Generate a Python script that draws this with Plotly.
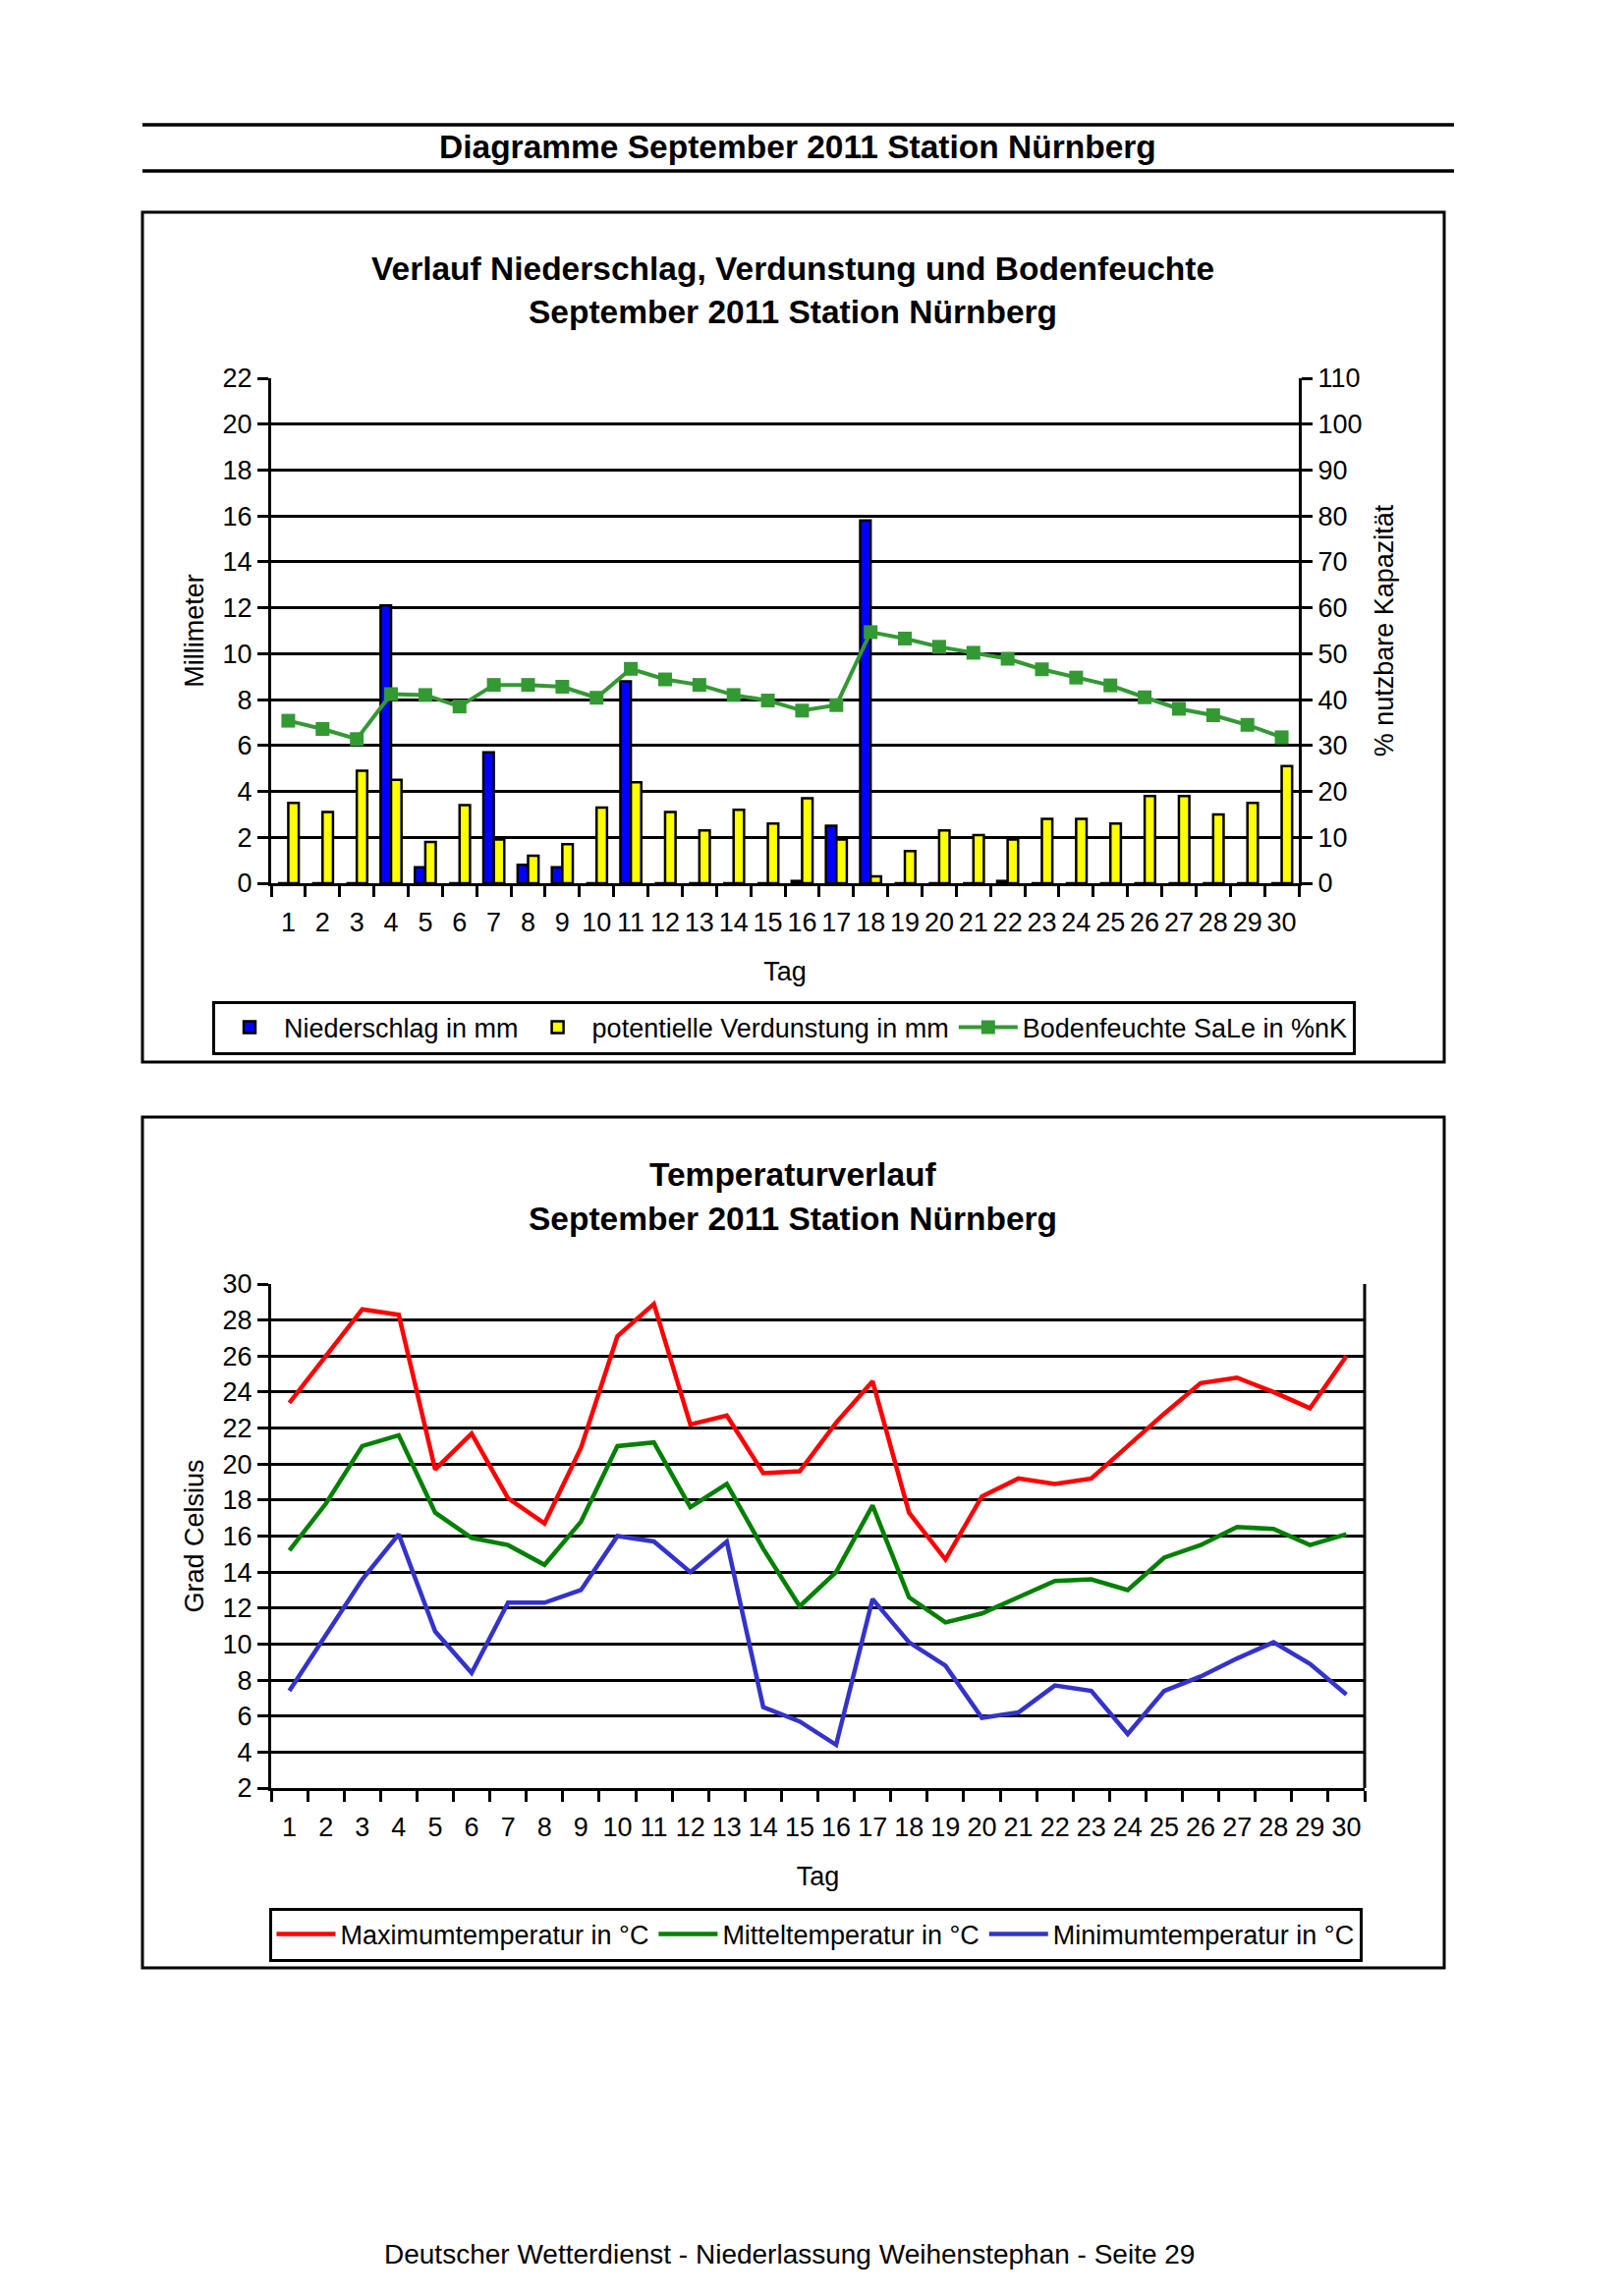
import plotly.graph_objects as go

W, H = 1653, 2337
OFF = 8  # the page body adds an 8 px margin around the figure

def fx(x):
    return (x - OFF) / W

def fy(y):
    return 1 - (y - OFF) / H

# ---------------- data ----------------
tage = [str(d) for d in range(1, 31)]

niederschlag = [0, 0, 0, 12.1, 0.7, 0, 5.7, 0.8, 0.7, 0,
                8.8, 0, 0, 0, 0, 0.1, 2.5, 15.8, 0, 0,
                0, 0.1, 0, 0, 0, 0, 0, 0, 0, 0]

verdunstung = [3.5, 3.1, 4.9, 4.5, 1.8, 3.4, 1.9, 1.2, 1.7, 3.3,
               4.4, 3.1, 2.3, 3.2, 2.6, 3.7, 1.9, 0.3, 1.4, 2.3,
               2.1, 1.9, 2.8, 2.8, 2.6, 3.8, 3.8, 3.0, 3.5, 5.1]

bodenfeuchte = [35.4, 33.6, 31.4, 41.2, 41.0, 38.5, 43.2, 43.2, 42.8, 40.4,
                46.7, 44.4, 43.2, 41.0, 39.8, 37.6, 38.8, 54.7, 53.3, 51.5,
                50.2, 48.9, 46.6, 44.8, 43.1, 40.5, 38.0, 36.6, 34.5, 31.8]

t_max = [23.4, 26.0, 28.6, 28.3, 19.7, 21.7, 18.1, 16.7, 20.9, 27.1,
         28.9, 22.2, 22.7, 19.5, 19.6, 22.3, 24.6, 17.3, 14.7, 18.2,
         19.2, 18.9, 19.2, 21.0, 22.8, 24.5, 24.8, 24.0, 23.1, 26.0]

t_mittel = [15.2, 17.8, 21.0, 21.6, 17.3, 15.9, 15.5, 14.4, 16.8, 21.0,
            21.2, 17.6, 18.9, 15.3, 12.1, 14.0, 17.7, 12.6, 11.2, 11.7,
            12.6, 13.5, 13.6, 13.0, 14.8, 15.5, 16.5, 16.4, 15.5, 16.1]

t_min = [7.4, 10.5, 13.6, 16.1, 10.7, 8.4, 12.3, 12.3, 13.0, 16.0,
         15.7, 14.0, 15.7, 6.5, 5.7, 4.4, 12.5, 10.1, 8.8, 5.9,
         6.2, 7.7, 7.4, 5.0, 7.4, 8.2, 9.2, 10.1, 8.9, 7.2]

FONT = "Arial, Liberation Sans, sans-serif"
FS = 27

fig = go.Figure()

# ---------------- top chart ----------------
fig.add_trace(go.Bar(
    x=tage, y=niederschlag, name="Niederschlag in mm",
    marker=dict(color="#0000FF", line=dict(color="black", width=2.5)),
    xaxis="x", yaxis="y", legend="legend",
))
fig.add_trace(go.Bar(
    x=tage, y=verdunstung, name="potentielle Verdunstung in mm",
    marker=dict(color="#FFFF00", line=dict(color="black", width=2.5)),
    xaxis="x", yaxis="y", legend="legend",
))
fig.add_trace(go.Scatter(
    x=tage, y=bodenfeuchte, name="Bodenfeuchte SaLe in %nK",
    mode="lines+markers",
    line=dict(color="#339933", width=4),
    marker=dict(symbol="square", size=14, color="#339933"),
    xaxis="x", yaxis="y2", legend="legend",
))

# ---------------- bottom chart ----------------
fig.add_trace(go.Scatter(
    x=tage, y=t_max, name="Maximumtemperatur in °C", mode="lines",
    line=dict(color="#FF0000", width=4.5),
    xaxis="x2", yaxis="y3", legend="legend2",
))
fig.add_trace(go.Scatter(
    x=tage, y=t_mittel, name="Mitteltemperatur in °C", mode="lines",
    line=dict(color="#008000", width=4.5),
    xaxis="x2", yaxis="y3", legend="legend2",
))
fig.add_trace(go.Scatter(
    x=tage, y=t_min, name="Minimumtemperatur in °C", mode="lines",
    line=dict(color="#3333CC", width=4.5),
    xaxis="x2", yaxis="y3", legend="legend2",
))

common_x = dict(
    type="category", categoryorder="array", categoryarray=tage,
    range=[-0.5, len(tage) - 0.5],
    tickson="boundaries", tickmode="linear", dtick=1,
    ticks="outside", ticklen=11,
    tickwidth=2.5, tickcolor="black", showline=True, linewidth=3,
    linecolor="black", showgrid=False, ticklabelstandoff=14, tickangle=0,
    automargin=False, tickfont=dict(size=FS),
    title=dict(text="Tag", font=dict(size=FS), standoff=26),
)
common_y = dict(
    tickmode="linear", ticks="outside", ticklen=11, tickwidth=2.5,
    tickcolor="black", showline=True, linewidth=3, linecolor="black",
    zeroline=False, automargin=False, ticklabelstandoff=0,
    tickfont=dict(size=FS),
)

fig.update_layout(
    width=W, height=H,
    margin=dict(l=0, r=0, t=0, b=0, pad=0, autoexpand=False),
    paper_bgcolor="white", plot_bgcolor="white",
    font=dict(family=FONT, size=FS, color="black"),
    barmode="group", bargap=0.39, bargroupgap=0,
    xaxis=dict(domain=[fx(276), fx(1322)], anchor="y", **common_x),
    yaxis=dict(domain=[fy(899), fy(385)], range=[0, 22], tick0=0, dtick=2,
               showgrid=True, gridcolor="black", gridwidth=2.5,
               title=dict(text="Millimeter", font=dict(size=FS), standoff=12),
               **common_y),
    yaxis2=dict(overlaying="y", side="right", anchor="x", range=[0, 110],
                tick0=0, dtick=10, showgrid=False,
                title=dict(text="% nutzbare Kapazität", font=dict(size=FS), standoff=14),
                **common_y),
    xaxis2=dict(domain=[fx(276), fx(1389)], anchor="y3", **common_x),
    yaxis3=dict(domain=[fy(1820), fy(1307)], range=[2, 30], tick0=2, dtick=2,
                showgrid=True, gridcolor="black", gridwidth=2.5,
                title=dict(text="Grad Celsius", font=dict(size=FS), standoff=12),
                **common_y),
    legend=dict(orientation="h", x=fx(798), y=fy(1046), xanchor="center",
                yanchor="middle", bordercolor="black", borderwidth=3,
                bgcolor="white", font=dict(size=FS), itemwidth=60,
                tracegroupgap=0),
    legend2=dict(orientation="h", x=fx(830), y=fy(1969), xanchor="center",
                 yanchor="middle", bordercolor="black", borderwidth=3,
                 bgcolor="white", font=dict(size=FS), itemwidth=60,
                 tracegroupgap=0),
)

# ---------------- page decoration ----------------
shapes = [
    dict(type="line", xref="paper", yref="paper", x0=fx(145), x1=fx(1480),
         y0=fy(127), y1=fy(127), line=dict(color="black", width=3.5)),
    dict(type="line", xref="paper", yref="paper", x0=fx(145), x1=fx(1480),
         y0=fy(174), y1=fy(174), line=dict(color="black", width=3.5)),
    dict(type="rect", xref="paper", yref="paper", x0=fx(145), x1=fx(1470),
         y0=fy(1081), y1=fy(216), line=dict(color="black", width=3)),
    dict(type="rect", xref="paper", yref="paper", x0=fx(145), x1=fx(1470),
         y0=fy(2003), y1=fy(1137), line=dict(color="black", width=3)),
    # right frame edge of the temperature plot area
    dict(type="line", xref="x2 domain", yref="y3 domain", x0=1, x1=1,
         y0=0, y1=1, line=dict(color="black", width=3)),
]
fig.update_layout(shapes=shapes)

def ann(text, x, y, size, bold=False):
    return dict(text=f"<b>{text}</b>" if bold else text, x=fx(x), y=fy(y),
                xref="paper", yref="paper", xanchor="center", yanchor="middle",
                showarrow=False, font=dict(size=size, family=FONT, color="black"))

fig.update_layout(annotations=[
    ann("Diagramme September 2011 Station Nürnberg", 812, 150, 33.5, True),
    ann("Verlauf Niederschlag, Verdunstung und Bodenfeuchte", 807, 273, 33.5, True),
    ann("September 2011 Station Nürnberg", 807, 317, 33.5, True),
    ann("Temperaturverlauf", 807, 1195, 33.5, True),
    ann("September 2011 Station Nürnberg", 807, 1240, 33.5, True),
    ann("Deutscher Wetterdienst - Niederlassung Weihenstephan - Seite 29", 803, 2294, 28),
])

fig.write_html("out.html")
